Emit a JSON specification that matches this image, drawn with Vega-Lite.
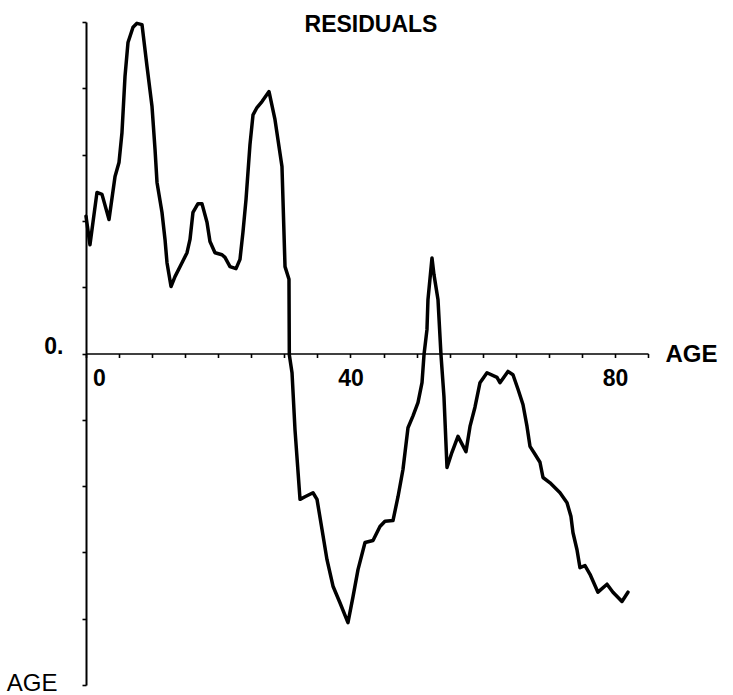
{
  "$schema": "https://vega.github.io/schema/vega-lite/v6.json",
  "width": 562,
  "height": 663,
  "autosize": {"type": "none"},
  "padding": {"left": 86, "top": 22, "right": 85, "bottom": 10},
  "background": "white",
  "title": {
    "text": "RESIDUALS",
    "font": "Liberation Sans",
    "fontSize": 23,
    "fontWeight": "bold",
    "color": "black",
    "anchor": "middle",
    "frame": "group",
    "baseline": "alphabetic",
    "offset": -9,
    "dx": 4,
    "dy": 42
  },
  "config": {
    "view": {"stroke": null},
    "axis": {"grid": false}
  },
  "data": {
    "values": [
      {"age": 0.0, "r": 2.07}, {"age": 0.6, "r": 1.64}, {"age": 1.66, "r": 2.43},
      {"age": 2.42, "r": 2.40}, {"age": 3.48, "r": 2.02}, {"age": 4.39, "r": 2.67},
      {"age": 4.99, "r": 2.88}, {"age": 5.44, "r": 3.33}, {"age": 5.90, "r": 4.18},
      {"age": 6.35, "r": 4.69}, {"age": 7.11, "r": 4.92}, {"age": 7.71, "r": 4.98},
      {"age": 8.47, "r": 4.96}, {"age": 9.23, "r": 4.33}, {"age": 9.98, "r": 3.73},
      {"age": 10.44, "r": 3.08}, {"age": 10.74, "r": 2.58}, {"age": 11.49, "r": 2.13},
      {"age": 11.95, "r": 1.72}, {"age": 12.25, "r": 1.37}, {"age": 12.86, "r": 1.01},
      {"age": 13.46, "r": 1.16}, {"age": 14.52, "r": 1.37}, {"age": 15.28, "r": 1.52},
      {"age": 15.73, "r": 1.72}, {"age": 16.18, "r": 2.13}, {"age": 16.94, "r": 2.26},
      {"age": 17.54, "r": 2.26}, {"age": 18.30, "r": 1.98}, {"age": 18.75, "r": 1.69},
      {"age": 19.51, "r": 1.52}, {"age": 20.57, "r": 1.49}, {"age": 21.02, "r": 1.45},
      {"age": 21.78, "r": 1.31}, {"age": 22.69, "r": 1.28}, {"age": 23.29, "r": 1.42},
      {"age": 23.74, "r": 1.83}, {"age": 24.20, "r": 2.32}, {"age": 24.80, "r": 3.15},
      {"age": 25.26, "r": 3.60}, {"age": 25.86, "r": 3.71}, {"age": 26.62, "r": 3.80},
      {"age": 27.68, "r": 3.95}, {"age": 28.58, "r": 3.53}, {"age": 29.64, "r": 2.82},
      {"age": 30.10, "r": 1.31}, {"age": 30.70, "r": 1.12}, {"age": 30.75, "r": -0.02},
      {"age": 31.16, "r": -0.29}, {"age": 31.61, "r": -1.15}, {"age": 32.37, "r": -2.20},
      {"age": 33.12, "r": -2.16}, {"age": 34.33, "r": -2.10}, {"age": 34.94, "r": -2.20},
      {"age": 35.69, "r": -2.65}, {"age": 36.45, "r": -3.11}, {"age": 37.36, "r": -3.51},
      {"age": 38.41, "r": -3.76}, {"age": 39.62, "r": -4.06}, {"age": 40.38, "r": -3.67},
      {"age": 41.14, "r": -3.26}, {"age": 42.20, "r": -2.85}, {"age": 43.41, "r": -2.82},
      {"age": 44.46, "r": -2.61}, {"age": 45.22, "r": -2.53}, {"age": 46.43, "r": -2.52},
      {"age": 47.19, "r": -2.16}, {"age": 47.94, "r": -1.75}, {"age": 48.70, "r": -1.12},
      {"age": 49.46, "r": -0.94}, {"age": 50.21, "r": -0.74}, {"age": 50.82, "r": -0.44},
      {"age": 51.12, "r": -0.02}, {"age": 51.57, "r": 0.36}, {"age": 51.72, "r": 0.81},
      {"age": 52.33, "r": 1.44}, {"age": 52.63, "r": 1.19}, {"age": 53.24, "r": 0.81},
      {"age": 53.69, "r": -0.02}, {"age": 54.14, "r": -0.65}, {"age": 54.60, "r": -1.72},
      {"age": 55.35, "r": -1.49}, {"age": 56.26, "r": -1.25}, {"age": 57.47, "r": -1.48},
      {"age": 58.08, "r": -1.10}, {"age": 58.83, "r": -0.81}, {"age": 59.59, "r": -0.44},
      {"age": 60.65, "r": -0.29}, {"age": 62.16, "r": -0.36}, {"age": 62.61, "r": -0.44},
      {"age": 63.82, "r": -0.27}, {"age": 64.58, "r": -0.32}, {"age": 65.34, "r": -0.54},
      {"age": 66.09, "r": -0.77}, {"age": 66.70, "r": -1.10}, {"age": 67.15, "r": -1.40},
      {"age": 67.91, "r": -1.52}, {"age": 68.66, "r": -1.64}, {"age": 69.12, "r": -1.87},
      {"age": 70.18, "r": -1.95}, {"age": 71.69, "r": -2.10}, {"age": 72.75, "r": -2.25},
      {"age": 73.35, "r": -2.46}, {"age": 73.65, "r": -2.70}, {"age": 74.26, "r": -2.96},
      {"age": 74.71, "r": -3.23}, {"age": 75.47, "r": -3.20}, {"age": 76.23, "r": -3.33},
      {"age": 77.43, "r": -3.60}, {"age": 78.80, "r": -3.48}, {"age": 79.70, "r": -3.60},
      {"age": 81.06, "r": -3.74}, {"age": 81.97, "r": -3.60}
    ]
  },
  "mark": {"type": "line", "color": "black", "strokeWidth": 3.5, "strokeJoin": "round", "strokeCap": "round", "interpolate": "linear"},
  "encoding": {
    "x": {
      "field": "age",
      "type": "quantitative",
      "scale": {"domain": [0, 85], "nice": false, "zero": false},
      "axis": {
        "orient": "bottom",
        "offset": -331.5,
        "values": [0, 5, 10, 15, 20, 25, 30, 35, 40, 45, 50, 55, 60, 65, 70, 75, 80, 85],
        "labelExpr": "datum.value % 40 == 0 ? datum.label : ''",
        "labelOverlap": false,
        "labelFlush": false,
        "labelBound": false,
        "labelOffset": {"condition": {"test": "datum.value == 0", "value": 13}, "value": 0},
        "labelPadding": 10,
        "labelFont": "Liberation Sans",
        "labelFontSize": 23,
        "labelFontWeight": "bold",
        "labelColor": "black",
        "domainColor": "black",
        "domainWidth": 1.6,
        "tickColor": "black",
        "tickWidth": 1.6,
        "tickSize": 4,
        "title": "AGE",
        "titleFont": "Liberation Sans",
        "titleFontSize": 24,
        "titleFontWeight": "bold",
        "titleColor": "black",
        "titleAlign": "left",
        "titleBaseline": "alphabetic",
        "titleAnchor": null,
        "titleX": 579,
        "titleY": 8
      }
    },
    "y": {
      "field": "r",
      "type": "quantitative",
      "scale": {"domain": [-5, 5], "nice": false, "zero": false},
      "axis": {
        "orient": "left",
        "values": [-5, -4, -3, -2, -1, 0, 1, 2, 3, 4, 5],
        "labelExpr": "datum.value == 0 ? '0.' : ''",
        "labelOverlap": false,
        "labelFlush": false,
        "labelBound": false,
        "labelBaseline": "alphabetic",
        "labelPadding": 19,
        "labelFont": "Liberation Sans",
        "labelFontSize": 23,
        "labelFontWeight": "bold",
        "labelColor": "black",
        "domainColor": "black",
        "domainWidth": 2,
        "tickColor": "black",
        "tickWidth": 1.6,
        "tickSize": 4,
        "title": "AGE",
        "titleFont": "Liberation Sans",
        "titleFontSize": 24,
        "titleFontWeight": "normal",
        "titleColor": "black",
        "titleAngle": 0,
        "titleAlign": "right",
        "titleBaseline": "alphabetic",
        "titleAnchor": null,
        "titleX": -29,
        "titleY": 668
      }
    }
  }
}
